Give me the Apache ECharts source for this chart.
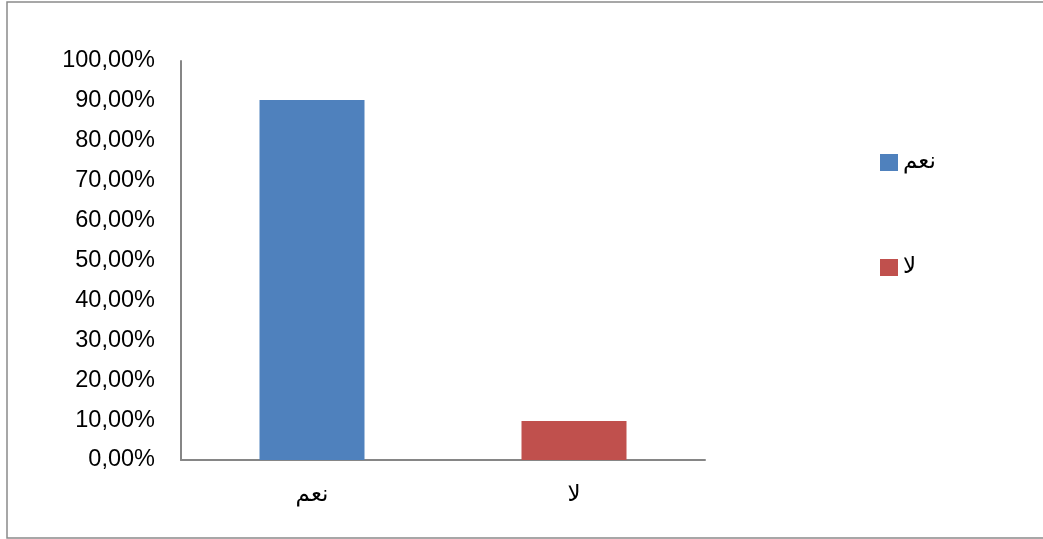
<!DOCTYPE html>
<html>
<head>
<meta charset="utf-8">
<script src="https://cdn.jsdelivr.net/npm/echarts@6/dist/echarts.min.js"></script>
<style>
  html, body { margin: 0; padding: 0; background: #fff; }
  #chart { width: 1043px; height: 539px; }
</style>
</head>
<body>
<div id="chart"></div>
<script>
// Answers and their shares (percent)
const categories = ['نعم', 'لا'];
const values = [90.2, 9.8];
const colors = ['#4F81BD', '#C0504D'];

const chart = echarts.init(document.getElementById('chart'));

// One series per answer so each gets its own legend entry
const series = categories.map((name, i) => ({
  name: name,
  type: 'bar',
  stack: 'answers',
  barWidth: 105,
  itemStyle: { color: colors[i] },
  data: categories.map((_, j) => (j === i ? values[i] : '-'))
}));

chart.setOption({
  animation: false,
  graphic: [{
    type: 'rect',
    shape: { x: 7, y: 2, width: 1045, height: 536 },
    style: { fill: 'none', stroke: '#8a8a8a', lineWidth: 1.5 },
    silent: true
  }],
  grid: { left: 181, right: 338, top: 61, bottom: 79 },
  legend: {
    orient: 'vertical',
    left: 875,
    top: 146,
    itemWidth: 18,
    itemHeight: 17,
    itemGap: 82,
    icon: 'rect',
    textStyle: { fontFamily: 'DejaVu Sans', fontSize: 23, color: '#000' },
    data: categories
  },
  xAxis: {
    type: 'category',
    data: categories,
    axisLine: { lineStyle: { color: '#868686', width: 2 } },
    axisTick: { show: false },
    axisLabel: { fontFamily: 'DejaVu Sans', fontSize: 23, color: '#000', margin: 24 }
  },
  yAxis: {
    type: 'value',
    min: 0,
    max: 100,
    interval: 10,
    axisLine: { show: true, lineStyle: { color: '#868686', width: 2 } },
    axisTick: { show: false },
    splitLine: { show: false },
    axisLabel: {
      fontFamily: 'Liberation Sans',
      fontSize: 23.5,
      color: '#000',
      margin: 26,
      formatter: v => v.toFixed(2).replace('.', ',') + '%'
    }
  },
  series: series
});
</script>
</body>
</html>
